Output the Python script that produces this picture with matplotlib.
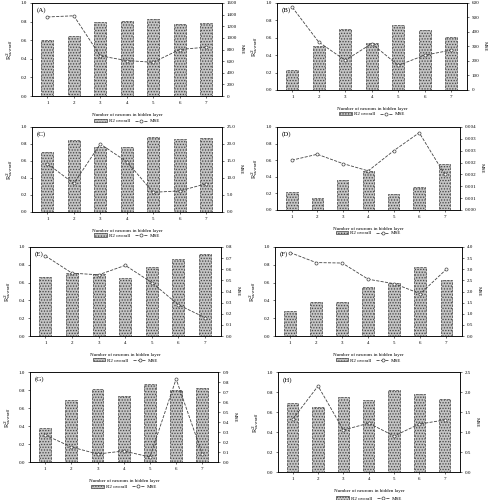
import matplotlib.pyplot as plt
import numpy as np
from matplotlib.lines import Line2D
from matplotlib.patches import Patch

plt.rcParams["font.family"] = ["Liberation Serif", "DejaVu Serif"]
plt.rcParams["hatch.color"] = "#6a6a6a"
plt.rcParams["hatch.linewidth"] = 0.6

neurons = [1, 2, 3, 4, 5, 6, 7]
labels = ["(A)", "(B)", "(C)", "(D)", "(E)", "(F)", "(G)", "(H)"]

r2_a = [0.60, 0.64, 0.80, 0.81, 0.83, 0.77, 0.78]
mse_a = [1360, 1380, 690, 610, 580, 800, 840]
r2_b = [0.23, 0.50, 0.70, 0.54, 0.75, 0.69, 0.61]
mse_b = [570, 330, 205, 320, 170, 240, 275]
r2_c = [0.70, 0.85, 0.77, 0.77, 0.88, 0.86, 0.87]
mse_c = [14.2, 8.4, 20.0, 14.8, 5.8, 6.2, 8.3]
r2_d = [0.22, 0.14, 0.36, 0.47, 0.19, 0.28, 0.56]
mse_d = [0.0021, 0.00235, 0.00196, 0.00165, 0.0025, 0.00326, 0.0015]
r2_e = [0.66, 0.71, 0.70, 0.65, 0.77, 0.87, 0.92]
mse_e = [0.72, 0.565, 0.55, 0.635, 0.48, 0.28, 0.165]
r2_f = [0.28, 0.38, 0.38, 0.55, 0.59, 0.78, 0.63]
mse_f = [3.75, 3.30, 3.28, 2.55, 2.35, 1.90, 3.00]
r2_g = [0.38, 0.69, 0.81, 0.73, 0.87, 0.80, 0.82]
mse_g = [0.27, 0.15, 0.08, 0.11, 0.05, 0.83, 0.08]
r2_h = [0.69, 0.65, 0.75, 0.72, 0.82, 0.78, 0.73]
mse_h = [1.32, 2.15, 1.05, 1.22, 0.90, 1.20, 1.30]

r2_all = [r2_a, r2_b, r2_c, r2_d, r2_e, r2_f, r2_g, r2_h]
mse_all = [mse_a, mse_b, mse_c, mse_d, mse_e, mse_f, mse_g, mse_h]
# right-axis upper limit, tick step, tick format
mse_top = [1600, 600, 25, 0.0035, 0.8, 4.0, 0.9, 2.5]
mse_step = [200, 100, 5, 0.0005, 0.1, 0.5, 0.1, 0.5]
mse_fmt = ["%d", "%d", "%.1f", "%.3f", "%.1f", "%.1f", "%.1f", "%.1f"]

# axes boxes in pixels: left, top, right, bottom
boxes = [
    (32, 3, 222, 96), (277, 3, 467, 90),
    (32, 127, 222, 212), (277, 127, 460, 210),
    (30, 247, 221, 336), (275, 247, 462, 336),
    (30, 372, 218, 462), (278, 372, 460, 472),
]

W, H = 490, 500
fig = plt.figure(figsize=(W / 100, H / 100), dpi=100)
fs = 3.6

for i in range(8):
    l, t, r, b = boxes[i]
    ax = fig.add_axes([l / W, 1 - b / H, (r - l) / W, (b - t) / H])
    ax.bar(neurons, r2_all[i], width=0.45, facecolor="#c4c4c4",
           edgecolor="#444444", linewidth=0.5, linestyle="--", hatch="......")
    ax.set_xlim(0.42, 7.6)
    ax.set_ylim(0, 1.0)
    ax.set_yticks(np.arange(0, 1.01, 0.2))
    ax.set_yticklabels(["%.1f" % v for v in np.arange(0, 1.01, 0.2)])
    ax.set_xticks(neurons)
    ax.tick_params(labelsize=fs, length=1.5, width=0.4, pad=2)
    ax.set_ylabel(r"R$^2_{overall}$", fontsize=4.5, labelpad=4)
    ax.set_xlabel("Number of neurons in hidden layer", fontsize=fs, labelpad=6)
    ax.text(0.025, 0.95, labels[i], transform=ax.transAxes, fontsize=5,
            va="top", ha="left")
    for s in ax.spines.values():
        s.set_linewidth(0.5)

    ax2 = ax.twinx()
    ax2.plot(neurons, mse_all[i], color="#444444", linestyle="--",
             linewidth=0.6, marker="o", markersize=2.2,
             markerfacecolor="white", markeredgecolor="#444444",
             markeredgewidth=0.5)
    ax2.set_ylim(0, mse_top[i])
    tk = np.arange(0, mse_top[i] + mse_step[i] / 2, mse_step[i])
    ax2.set_yticks(tk)
    ax2.set_yticklabels([mse_fmt[i] % v for v in tk])
    ax2.tick_params(labelsize=fs, length=1.5, width=0.4, pad=2)
    ax2.set_ylabel("MSE", fontsize=fs, rotation=270, labelpad=5)
    for s in ax2.spines.values():
        s.set_linewidth(0.5)

    handles = [
        Patch(facecolor="#c4c4c4", edgecolor="#444444", hatch="......",
              linewidth=0.5),
        Line2D([], [], color="#444444", linestyle="--", linewidth=0.6,
               marker="o", markersize=2.2, markerfacecolor="white",
               markeredgewidth=0.5),
    ]
    ax.legend(handles, ["R2 overall", "MSE"], loc="upper center",
              bbox_to_anchor=(0.5, -0.2), ncol=2, frameon=False,
              fontsize=fs, handlelength=2.5, handleheight=0.6,
              columnspacing=1.0, handletextpad=0.4)

fig.savefig("out.png", dpi=100)
